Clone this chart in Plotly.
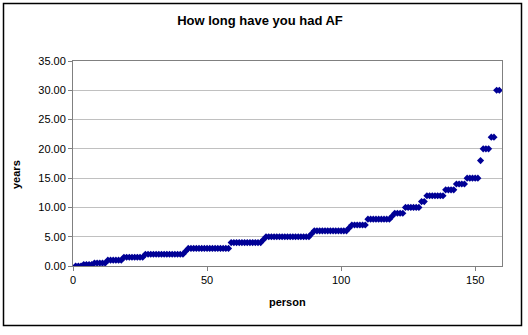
import plotly.graph_objects as go

# Sorted answers: years each person has had AF
persons = list(range(1, 160))
levels = [
    (0.0, 3), (0.25, 4), (0.5, 5), (1.0, 6), (1.5, 8), (2.0, 15), (2.5, 1),
    (3.0, 16), (4.0, 12), (4.5, 1), (5.0, 17), (5.5, 1), (6.0, 13), (6.5, 1),
    (7.0, 6), (8.0, 9), (8.5, 1), (9.0, 4), (10.0, 6), (11.0, 2), (12.0, 7),
    (13.0, 4), (14.0, 4), (15.0, 5), (18.0, 1), (20.0, 3), (22.0, 2), (30.0, 2),
]
years = []
for v, n in levels:
    years += [v] * n
years = years[:len(persons)]

x_ticks = [0, 50, 100, 150]
y_ticks = [0, 5, 10, 15, 20, 25, 30, 35]

L, R, T, B = 73, 26, 61, 69
W, H = 528, 335
pw, ph = W - L - R, H - T - B

def px(x):
    return (x - L) / pw

def py(y):
    return (H - B - y) / ph

fig = go.Figure()
fig.add_trace(go.Scatter(
    x=persons[:len(years)], y=years, mode="markers",
    marker=dict(symbol="diamond", size=5.5, color="#000096",
                line=dict(width=0)),
    showlegend=False,
))

font = "Liberation Sans, Arial, sans-serif"
fig.update_layout(
    width=W, height=H,
    margin=dict(l=L, r=R, t=T, b=B),
    paper_bgcolor="white", plot_bgcolor="white",
    font=dict(family=font, size=11, color="black"),
    title=dict(text="<b>How long have you had AF</b>", x=260 / W, xanchor="center",
               y=1 - 20 / H, yanchor="middle", yref="container",
               font=dict(size=13, family=font, color="black")),
    xaxis=dict(range=[0, 160], tickvals=x_ticks, ticks="outside", ticklen=4,
               tickcolor="#808080", showline=True, linecolor="#808080",
               linewidth=1, mirror=True, showgrid=False, zeroline=False,
               tickfont=dict(size=11)),
    yaxis=dict(range=[0, 35], tickvals=y_ticks, tickformat=".2f",
               ticks="outside", ticklen=4, tickcolor="#808080",
               showline=True, linecolor="#808080", linewidth=1, mirror=True,
               showgrid=True, gridcolor="#C0C0C0", gridwidth=1,
               zeroline=False, tickfont=dict(size=11)),
    annotations=[
        dict(text="<b>person</b>", x=0.5, y=py(302), xref="paper", yref="paper",
             showarrow=False, xanchor="center", yanchor="middle",
             font=dict(size=11)),
        dict(text="<b>years</b>", x=px(16), y=py(175), xref="paper", yref="paper",
             showarrow=False, xanchor="center", yanchor="middle", textangle=-90,
             font=dict(size=11)),
    ],
    shapes=[
        dict(type="rect", xref="paper", yref="paper",
             x0=px(3.5), x1=px(521.5), y0=py(325.5), y1=py(3.5),
             line=dict(color="black", width=1.5), layer="above"),
    ],
)

fig.write_html("out.html")
